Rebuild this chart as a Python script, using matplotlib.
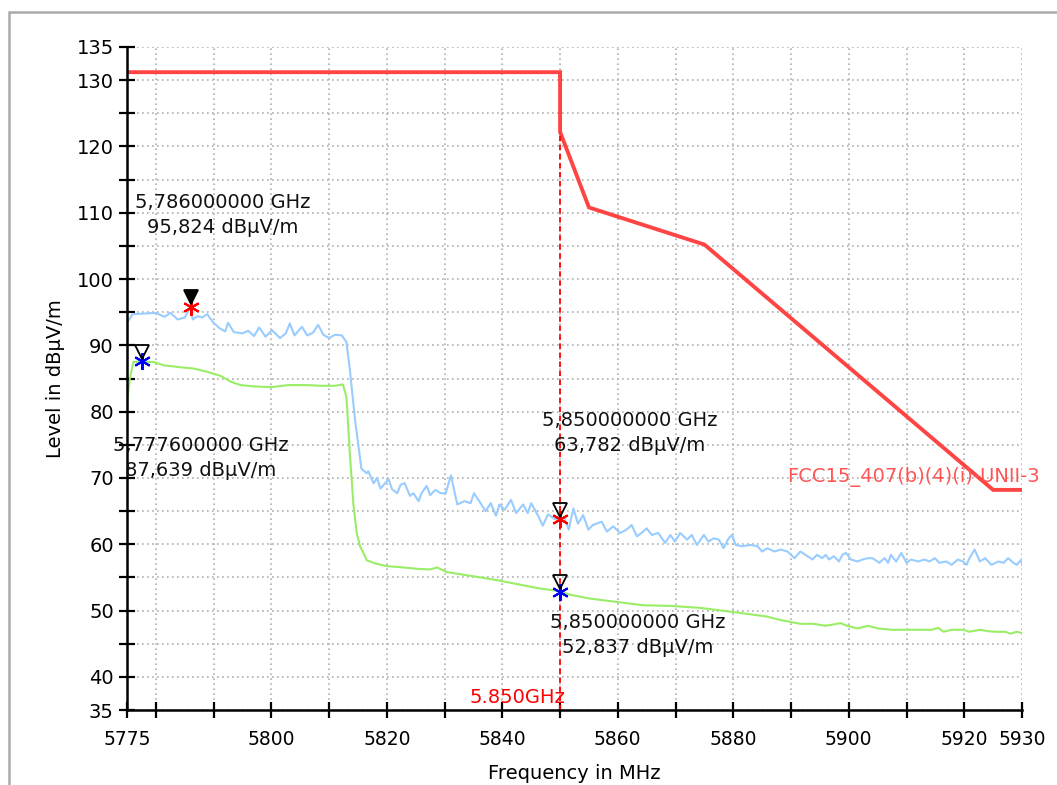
import numpy as np
import matplotlib
matplotlib.use("Agg")
import matplotlib.pyplot as plt
from matplotlib.patches import Rectangle

# peak trace (light blue)
pk_freq = [5775.0, 5776.0, 5778.0, 5780.0, 5781.5, 5782.5, 5783.8, 5785.0, 5786.0, 5786.4,
           5787.2, 5788.0, 5788.9, 5790.0, 5791.0, 5792.0, 5792.5, 5793.5, 5795.0, 5796.0,
           5797.0, 5797.9, 5799.0, 5800.1, 5801.5, 5802.5, 5803.2, 5804.0, 5805.3, 5806.2,
           5807.2, 5808.1, 5809.0, 5810.0, 5811.0, 5812.2, 5813.0, 5813.6, 5814.5, 5815.6,
           5816.5, 5816.8, 5817.7, 5818.3, 5818.9, 5819.5, 5820.3, 5820.9, 5821.8, 5822.4,
           5823.1, 5824.0, 5824.6, 5825.5, 5826.0, 5826.9, 5827.5, 5828.4, 5829.3, 5830.2,
           5831.1, 5832.2, 5833.4, 5834.5, 5835.1, 5836.0, 5837.1, 5838.0, 5838.9, 5839.5,
           5840.4, 5841.5, 5842.4, 5843.6, 5844.4, 5845.0, 5846.2, 5847.0, 5847.9, 5849.1,
           5850.0, 5850.8, 5851.5, 5852.3, 5853.1, 5854.0, 5854.9, 5855.7, 5857.2, 5858.1,
           5859.2, 5860.4, 5861.5, 5862.4, 5863.3, 5864.1, 5865.0, 5865.9, 5867.0, 5868.2,
           5869.1, 5869.9, 5870.8, 5872.0, 5872.8, 5873.7, 5874.9, 5875.7, 5876.6, 5877.5,
           5878.3, 5879.2, 5879.8, 5880.4, 5881.5, 5883.0, 5884.2, 5885.0, 5885.9, 5887.1,
           5888.2, 5889.4, 5890.6, 5891.6, 5892.5, 5893.7, 5894.5, 5895.4, 5896.0, 5896.6,
           5897.4, 5898.3, 5898.9, 5899.5, 5900.4, 5901.5, 5902.4, 5903.3, 5904.1, 5905.3,
           5906.2, 5906.8, 5907.3, 5908.2, 5909.1, 5910.0, 5910.8, 5912.0, 5913.1, 5914.0,
           5914.9, 5915.7, 5916.9, 5917.8, 5918.9, 5919.8, 5920.4, 5920.9, 5921.8, 5922.7,
           5923.6, 5924.7, 5925.9, 5926.8, 5927.6, 5928.5, 5929.1, 5929.9, 5930.0]
pk_level = [93.4, 94.7, 94.8, 94.9, 94.3, 94.9, 93.9, 94.2, 95.8, 93.9,
            94.4, 94.2, 94.7, 93.4, 92.6, 92.1, 93.4, 92.0, 91.8, 92.2,
            91.4, 92.7, 91.3, 92.3, 91.1, 91.8, 93.3, 91.5, 92.8, 91.5,
            91.9, 93.1, 91.6, 91.1, 91.6, 91.5, 90.5, 86.3, 78.7, 71.4,
            70.7, 71.0, 69.2, 70.0, 68.4, 69.0, 69.8, 68.3, 67.7, 69.0,
            69.2, 67.3, 67.7, 66.5, 67.7, 68.8, 67.4, 68.2, 67.7, 67.7,
            70.4, 66.0, 66.5, 66.2, 67.7, 66.5, 65.0, 66.2, 64.3, 66.0,
            65.2, 66.7, 64.7, 66.0, 64.7, 66.2, 64.3, 62.8, 64.5, 63.8,
            63.8, 64.0, 62.2, 65.4, 63.1, 64.4, 62.2, 62.9, 63.4, 61.9,
            62.7, 61.7, 62.2, 62.9, 61.2, 61.7, 62.4, 61.4, 61.7, 60.2,
            61.4, 60.4, 61.7, 60.7, 61.4, 59.9, 61.4, 60.4, 60.9, 60.7,
            59.4, 60.9, 61.4, 59.9, 59.7, 59.9, 59.7, 58.9, 59.4, 58.9,
            59.2, 58.9, 57.9, 58.9, 58.4, 57.7, 58.4, 57.9, 58.4, 57.7,
            58.2, 57.4, 58.4, 58.7, 57.7, 57.4, 57.7, 57.9, 57.9, 57.2,
            57.9, 57.2, 58.4, 57.4, 58.7, 57.2, 57.7, 57.4, 57.7, 57.4,
            57.9, 57.2, 57.4, 56.9, 57.7, 57.4, 56.9, 57.9, 59.2, 57.4,
            57.9, 56.9, 57.4, 57.2, 57.9, 57.2, 56.9, 57.7, 56.9]

# average trace (light green)
av_freq = [5775.0, 5775.5, 5776.1, 5779.6, 5781.3, 5784.2, 5786.6, 5788.9, 5791.2, 5793.0,
           5794.7, 5797.1, 5800.0, 5802.9, 5806.3, 5808.6, 5811.0, 5812.4, 5813.0, 5813.6,
           5814.2, 5814.8, 5815.4, 5815.9, 5816.5, 5818.0, 5820.0, 5822.9, 5825.2, 5827.5,
           5828.7, 5830.4, 5833.3, 5836.2, 5839.0, 5841.9, 5846.0, 5850.0, 5851.7, 5855.2,
           5859.8, 5864.4, 5869.1, 5874.3, 5878.9, 5882.4, 5885.8, 5888.0, 5891.6, 5893.9,
           5896.0, 5898.6, 5899.7, 5901.5, 5903.4, 5905.1, 5907.4, 5910.9, 5914.4, 5915.5,
           5916.4, 5917.8, 5919.9, 5920.8, 5922.8, 5924.0, 5925.4, 5927.1, 5928.0, 5929.1,
           5930.0]
av_level = [81.5, 85.0, 87.5, 87.5, 87.0, 86.7, 86.5, 86.0, 85.4, 84.5,
            84.0, 83.8, 83.7, 84.0, 84.0, 83.9, 83.9, 84.1, 82.2, 73.6,
            66.1, 61.6, 59.6, 58.8, 57.6, 57.1, 56.7, 56.5, 56.3, 56.2,
            56.5, 55.8, 55.4, 55.0, 54.6, 54.1, 53.4, 52.9, 52.4, 51.8,
            51.3, 50.8, 50.7, 50.4, 49.9, 49.5, 49.1, 48.6, 48.0, 48.0,
            47.7, 48.1, 47.7, 47.3, 47.7, 47.3, 47.1, 47.1, 47.1, 47.4,
            46.8, 47.1, 47.1, 46.8, 47.1, 46.9, 46.8, 46.8, 46.5, 46.8,
            46.6]

# limit line FCC15_407(b)(4)(i)-UNII-3
lim_freq = [5775, 5850, 5850, 5855, 5875, 5925, 5930]
lim_level = [131.2, 131.2, 122.2, 110.8, 105.2, 68.2, 68.2]

# markers: (freq, level, trace)
mk_freq = [5786.0, 5777.6, 5850.0, 5850.0]
mk_level = [95.824, 87.639, 63.782, 52.837]
mk_color = ['red', 'blue', 'red', 'blue']
mk_filled = [True, False, False, False]
mk_text = ['5,786000000 GHz\n95,824 dBµV/m',
           '5,777600000 GHz\n87,639 dBµV/m',
           '5,850000000 GHz\n63,782 dBµV/m',
           '5,850000000 GHz\n52,837 dBµV/m']
mk_text_pos = [(5791.6, 109.6), (5787.8, 73.0), (5862.1, 76.8), (5863.5, 46.3)]

yticks = [35, 40, 45, 50, 55, 60, 65, 70, 75, 80, 85, 90, 95, 100, 105, 110, 115, 120, 125, 130, 135]
ytick_labels = ['35', '40', '', '50', '', '60', '', '70', '', '80', '', '90', '', '100', '',
                '110', '', '120', '', '130', '135']
xticks = [5775, 5780, 5790, 5800, 5810, 5820, 5830, 5840, 5850, 5860, 5870, 5880, 5890,
          5900, 5910, 5920, 5930]
xtick_labels = ['5775', '', '', '5800', '', '5820', '', '5840', '', '5860', '', '5880', '',
                '5900', '', '5920', '5930']

plt.rcParams['font.family'] = ['DejaVu Sans']

fig = plt.figure(figsize=(10.57, 7.85), dpi=100)
fig.patches.append(Rectangle((9 / 1057, -0.1), 1.2, 1 - 12 / 785 + 0.1, transform=fig.transFigure,
                             fill=False, edgecolor='#aaaaaa', lw=1.8))
ax = fig.add_axes([127 / 1057, 1 - 710 / 785, 895 / 1057, 663 / 785])

ax.plot(pk_freq, pk_level, color='#99ccff', lw=1.5)
ax.plot(av_freq, av_level, color='#99ee66', lw=1.5)
ax.plot(lim_freq, lim_level, color='#ff4444', lw=2.8, solid_joinstyle='miter')
ax.plot([5850, 5850], [35, 122.2], color='red', lw=1.3, ls=(0, (3, 2)))

for f, l, c, filled, txt, pos in zip(mk_freq, mk_level, mk_color, mk_filled, mk_text, mk_text_pos):
    ax.plot(f, l, marker=(6, 2, 0), ms=12, mew=1.5, color=c, zorder=5)
    ax.plot(f, l + 1.4, marker='v', ms=10, mew=1.3, mec='black',
            mfc='black' if filled else 'none', zorder=6)
    ax.text(pos[0], pos[1], txt, ha='center', va='center', fontsize=14,
            linespacing=1.4, color='#111111')

ax.text(5851, 36.9, '5.850GHz', color='red', fontsize=14, ha='right', va='center')
ax.text(5933, 70.1, 'FCC15_407(b)(4)(i)-UNII-3', color='#ff5555', fontsize=14,
        ha='right', va='center', clip_on=False)

ax.set_xlim(5775, 5930)
ax.set_ylim(35, 135)
ax.set_xticks(xticks)
ax.set_xticklabels(xtick_labels, fontsize=13.5)
ax.set_yticks(yticks)
ax.set_yticklabels(ytick_labels, fontsize=14)
ax.tick_params(direction='inout', length=11, width=1.6, pad=4)
ax.tick_params(axis='x', pad=9)
ax.grid(True, color='#b0b0b0', ls=(0, (1, 2)), lw=1.2)
ax.set_axisbelow(True)
for s in ['top', 'right']:
    ax.spines[s].set_visible(False)
for s in ['left', 'bottom']:
    ax.spines[s].set_linewidth(1.8)

ax.set_xlabel('Frequency in MHz', fontsize=14, labelpad=11)
ax.set_ylabel('Level in dBµV/m', fontsize=14, labelpad=8)

fig.savefig('out.png', dpi=100)
